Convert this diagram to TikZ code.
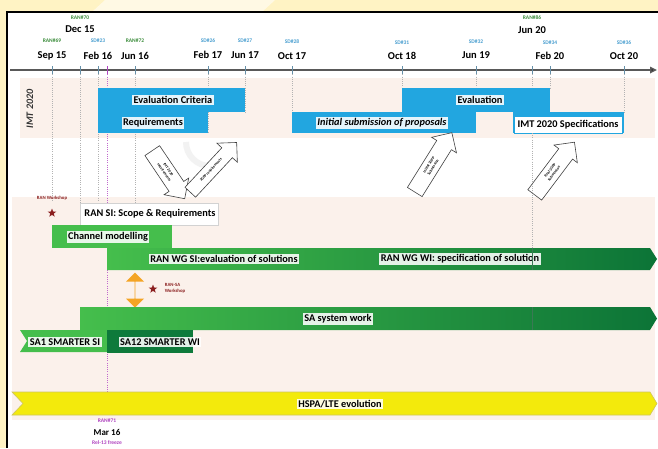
\documentclass[tikz,border=0pt]{standalone}
\usepackage{fontspec}
\setmainfont{Carlito}
\usetikzlibrary{shapes.arrows,shapes.geometric,arrows.meta}
\definecolor{bgyel}{HTML}{FFF3C4}
\definecolor{peach}{HTML}{FBF1EB}
\definecolor{imtblue}{HTML}{22A6E0}
\definecolor{rangreen}{HTML}{3E8E3E}
\definecolor{sdblue}{HTML}{4A9FD0}
\definecolor{wred}{HTML}{8B1F1F}
\definecolor{purp}{HTML}{B044C0}
\definecolor{gA}{HTML}{45BE4C}
\definecolor{gB}{HTML}{1DA34A}
\definecolor{gC}{HTML}{0C7437}
\definecolor{gDark}{HTML}{0E7A3B}
\definecolor{yel}{HTML}{F3EA0C}
\definecolor{yelb}{HTML}{CFC65A}
\definecolor{orng}{HTML}{F4A424}
\begin{document}
\begin{tikzpicture}[x=1pt,y=-1pt,
 lbl/.style={fill=white, fill opacity=0.88, text opacity=1, inner sep=1.5pt, font=\bfseries\fontsize{10.3}{11}\selectfont},
 datel/.style={font=\bfseries\fontsize{10.5}{11}\selectfont, inner sep=0},
 ranl/.style={font=\bfseries\fontsize{5.5}{5.5}\selectfont, text=rangreen, inner sep=0},
 sdl/.style={font=\bfseries\fontsize{5.5}{5.5}\selectfont, text=sdblue, inner sep=0},
 vline/.style={draw=gray!60, line width=0.5pt, dash pattern=on 1pt off 1.2pt},
 tick/.style={draw=gray!50!sdblue, line width=0.5pt},
 blu/.style={fill=imtblue, draw=none},
 blk/.style={single arrow, draw=black!75, fill=white, line width=0.6pt, single arrow head extend=6pt, inner xsep=1.5pt, inner ysep=4.5pt, minimum width=28pt, align=center, font=\fontsize{3.8}{5}\selectfont\bfseries},
 wstar/.style={star, star points=5, star point ratio=2.4, fill=wred, inner sep=0, minimum size=9pt},
 wlab/.style={font=\bfseries\fontsize{4.8}{6}\selectfont, text=wred, inner sep=0, align=left}
]
\useasboundingbox (0,0) rectangle (658,448);
% background
\fill[bgyel] (0,0) rectangle (658,448);
\fill[white, opacity=0.55] (105,0) -- (275,0) -- (262,12) -- (92,12) -- cycle;
\fill[white] (7,12) rectangle (658,448);
\draw[black, line width=1.6pt] (7,448) -- (7,12) -- (658,12);
% bands
\fill[peach] (20,78) rectangle (655,138);
\fill[peach] (12,197) rectangle (655,420);
% dotted vertical lines
\foreach \x/\ya/\yb in {52/70/200, 80/70/203, 98/70/200, 135/70/203, 208/70/133, 245/70/112, 292/70/112, 402/70/88, 476/70/88, 532/70/88, 550/70/88, 624/70/112}
  \draw[vline] (\x,\ya) -- (\x,\yb);
\draw[draw=purp!80, line width=0.6pt, dash pattern=on 1pt off 1.2pt] (107,70) -- (107,415);
% timeline
\coordinate (axL) at (10,70);
\coordinate (axR) at (657,70);
\draw[line width=1.6pt, gray!70!black, -{Triangle[length=7pt,width=6.5pt,fill=black]}] (axL) -- (axR);
\foreach \x in {52,80,98,135,208,245,292,402,476,532,550,624}
  \draw[tick] (\x,66) -- (\x,74);
\draw[purp, line width=0.7pt] (107,66) -- (107,74);
% date labels
\node[ranl] (r69) at (52,41) {RAN\#69};
\node[datel] (d69) at (52,56) {Sep 15};
\node[ranl] (r70) at (80,18) {RAN\#70};
\node[datel] (d70) at (80,29) {Dec 15};
\node[sdl] (s23) at (98,41) {SD\#23};
\node[datel] (d23) at (98,56) {Feb 16};
\node[ranl] (r72) at (135,41) {RAN\#72};
\node[datel] (d72) at (135,56) {Jun 16};
\node[sdl] (s26) at (208,41) {SD\#26};
\node[datel] (d26) at (208,55) {Feb 17};
\node[sdl] (s27) at (245,41) {SD\#27};
\node[datel] (d27) at (245,55) {Jun 17};
\node[sdl] (s28) at (292,42) {SD\#28};
\node[datel] (d28) at (292,56) {Oct 17};
\node[sdl] (s31) at (402,43) {SD\#31};
\node[datel] (d31) at (402,56) {Oct 18};
\node[sdl] (s32) at (476,42) {SD\#32};
\node[datel] (d32) at (476,55) {Jun 19};
\node[ranl] (r86) at (532,18) {RAN\#86};
\node[datel] (d86) at (532,30) {Jun 20};
\node[sdl] (s34) at (550,43) {SD\#34};
\node[datel] (d34) at (550,56) {Feb 20};
\node[sdl] (s36) at (624,43) {SD\#36};
\node[datel] (d36) at (624,56) {Oct 20};
% IMT 2020 band
\node[rotate=90, font=\bfseries\itshape\fontsize{10}{10}\selectfont, text=black!80] (imt) at (30,109) {IMT 2020};
\fill[blu] (98,88) rectangle (245,112);
\fill[blu] (98,112) rectangle (208,133);
\fill[blu] (292,112) rectangle (476,133);
\fill[blu] (402,88) rectangle (550,112);
\fill[blu] (513,112) rectangle (624,133);
\node[lbl] (evc) at (173,100) {Evaluation Criteria};
\node[lbl] (req) at (153,123) {Requirements};
\node[lbl, font=\bfseries\itshape\fontsize{10.3}{11}\selectfont] (isp) at (382,123) {Initial submission of proposals};
\node[lbl] (evl) at (480,100) {Evaluation};
\node[lbl, fill opacity=1, draw=imtblue, line width=0.8pt, minimum width=108pt, minimum height=17pt] (spec) at (568,125) {IMT 2020 Specifications};
% faint ghost arrow
\draw[gray!10, line width=6pt] (186,142) arc[start angle=180, end angle=330, radius=24pt];
% block arrows
\node[blk, rotate=-56, minimum height=58pt] (a1) at (166,171) {IMT 2020\\requirements};
\node[blk, rotate=47, minimum height=68pt] (a2) at (211,170) {3GPP requirements};
\node[blk, rotate=58, minimum height=70pt] (a3) at (431,166) {Initial 3GPP\\Submission};
\node[blk, rotate=53, minimum height=66pt] (a4) at (552,172) {Final 3GPP\\Submission};
% 3GPP section
\node[wlab] (rws) at (52,198) {RAN Workshop};
\node[wstar] (st1) at (52,213) {};
\draw[fill=white, draw=gray!35, line width=0.5pt] (80,203) rectangle (218,225);
\node[font=\bfseries\fontsize{10.3}{11}\selectfont, inner sep=0] (ransi) at (150,214) {RAN SI: Scope \& Requirements};
\fill[gA] (52,225) rectangle (172,248);
\node[lbl] (chm) at (108,237) {Channel modelling};
\shade[left color=gA, middle color=gB, right color=gC] (107,248) -- (650,248) -- (657,259) -- (650,270) -- (107,270) -- cycle;
\node[lbl] (wgsi) at (224,259) {RAN WG SI:evaluation of solutions};
\node[lbl] (wgwi) at (460,259) {RAN WG WI: specification of solution};
\node[double arrow, fill=orng, rotate=90, minimum height=35pt, minimum width=18pt, double arrow head extend=5pt, inner sep=0] (oa) at (135,290) {};
\node[wstar] (st2) at (153,289) {};
\node[wlab] (rsa) at (175,288) {RAN-SA\\Workshop};
\shade[left color=gA, middle color=gB, right color=gC] (80,307) -- (650,307) -- (657,318.5) -- (650,330) -- (80,330) -- cycle;
\draw[gray!40!gC, line width=0.6pt] (532,248) -- (532,270);
\draw[gray!40!gC, line width=0.6pt] (532,307) -- (532,330);
\draw[vline] (532,133) -- (532,248);
\node[lbl] (sa) at (338,319) {SA system work};
\fill[gA] (20,330) -- (107,330) -- (107,352) -- (20,352) -- (27,341) -- cycle;
\fill[gDark] (107,330) rectangle (193,353);
\node[lbl] (sa1) at (65,342) {SA1 SMARTER SI};
\node[lbl] (sa12) at (160,342) {SA12 SMARTER WI};
\draw[fill=yel, draw=yelb, line width=0.6pt] (12,392) -- (650,392) -- (657,403.5) -- (650,415) -- (12,415) -- (23,403.5) -- cycle;
\node[lbl] (hspa) at (340,404) {HSPA/LTE evolution};
% bottom
\node[font=\bfseries\fontsize{5.5}{5.5}\selectfont, text=purp, inner sep=0] (r71) at (107,421) {RAN\#71};
\node[font=\bfseries\fontsize{9}{9}\selectfont, inner sep=0] (d71) at (107,432) {Mar 16};
\node[font=\bfseries\fontsize{5.5}{5.5}\selectfont, text=purp, inner sep=0] (rel) at (107,443) {Rel-13 freeze};
\end{tikzpicture}
\end{document}
